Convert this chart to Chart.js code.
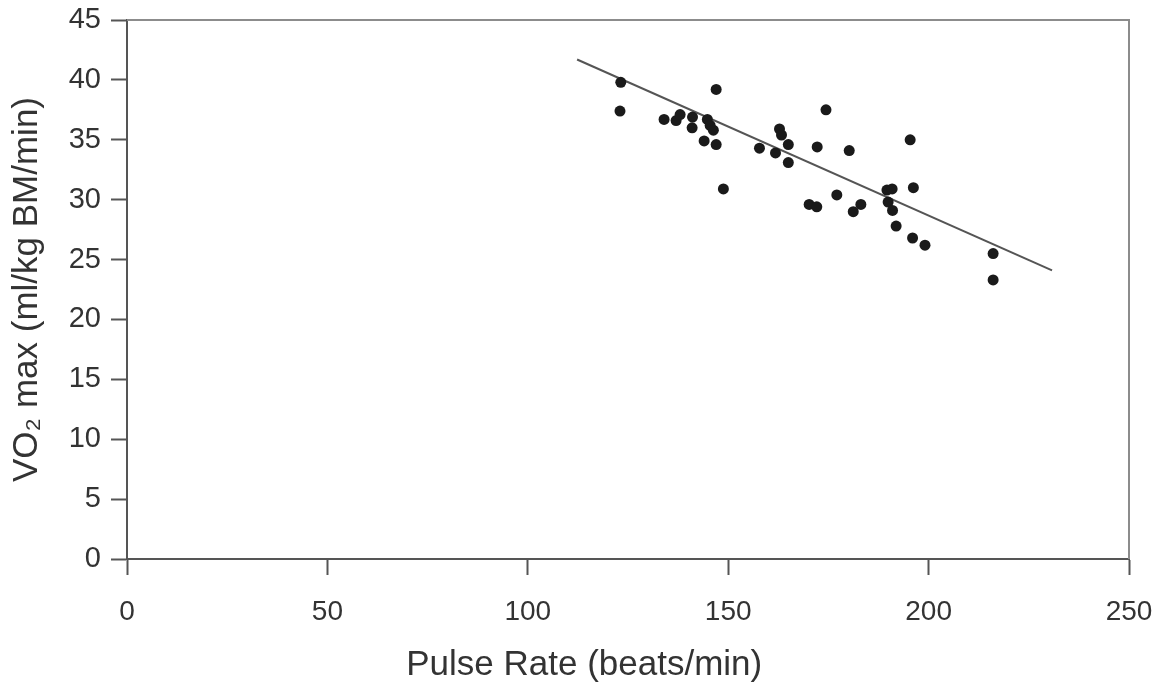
<!DOCTYPE html>
<html>
<head>
<meta charset="utf-8">
<script src="https://cdn.jsdelivr.net/npm/chart.js@4.4.1/dist/chart.umd.min.js"></script>
<style>
  html, body { margin: 0; padding: 0; background: #fff; }
</style>
</head>
<body>
<canvas id="vo2Chart" width="1159" height="692"></canvas>
<script>
// Valeurs
const pulseRate = [123.2, 123.0, 134.0, 137.0, 138.0, 141.1, 141.0, 144.8, 145.5, 146.3,
  144.0, 147.0, 147.0, 148.8, 157.8, 161.8, 162.8, 163.3, 165.0, 165.0,
  172.2, 174.4, 180.2, 177.1, 170.2, 172.1, 181.2, 183.1, 189.6, 190.9,
  189.9, 191.0, 191.9, 195.4, 196.2, 196.0, 199.1, 216.1, 216.1];
const vo2Max = [39.8, 37.4, 36.7, 36.6, 37.1, 36.9, 36.0, 36.7, 36.2, 35.8,
  34.9, 34.6, 39.2, 30.9, 34.3, 33.9, 35.9, 35.4, 34.6, 33.1,
  34.4, 37.5, 34.1, 30.4, 29.6, 29.4, 29.0, 29.6, 30.8, 30.9,
  29.8, 29.1, 27.8, 35.0, 31.0, 26.8, 26.2, 25.5, 23.3];

// Droite de régression
const trendPulse = [112.3, 230.8];
const trendVo2 = [41.7, 24.1];

// titre x un peu décalé vers la gauche comme sur l'original
const xTitle = 'Pulse Rate (beats/min)' + '\u00a0'.repeat(9);
const yTitle = 'VO\u2082 max (ml/kg BM/min)';

const font = "'Liberation Sans', Arial, sans-serif";
const textColor = '#333';

// cadre haut / droite
const framePlugin = {
  id: 'frame',
  beforeDatasetsDraw(chart) {
    const { ctx, chartArea: a } = chart;
    ctx.save();
    ctx.strokeStyle = '#8c8c8c';
    ctx.lineWidth = 2;
    ctx.beginPath();
    ctx.moveTo(a.left, a.top);
    ctx.lineTo(a.right, a.top);
    ctx.lineTo(a.right, a.bottom);
    ctx.stroke();
    ctx.restore();
  },
};

new Chart(document.getElementById('vo2Chart').getContext('2d'), {
  type: 'scatter',
  data: {
    datasets: [
      {
        label: 'VO2 max',
        data: pulseRate.map((x, i) => ({ x, y: vo2Max[i] })),
        backgroundColor: '#1a1a1a',
        borderWidth: 0,
        pointRadius: 5.5,
      },
      {
        type: 'line',
        label: 'Tendance',
        data: trendPulse.map((x, i) => ({ x, y: trendVo2[i] })),
        borderColor: '#555',
        borderWidth: 2,
        pointRadius: 0,
        fill: false,
      },
    ],
  },
  options: {
    responsive: false,
    animation: false,
    layout: { padding: { left: 0, right: 30, top: 20, bottom: 0 } },
    plugins: {
      legend: { display: false },
      tooltip: { enabled: false },
    },
    scales: {
      x: {
        type: 'linear',
        min: 0,
        max: 250,
        afterFit: (scale) => {
          scale.height = 133;
          scale.paddingLeft = 0;
          scale.paddingRight = 0;
        },
        ticks: {
          stepSize: 50,
          color: textColor,
          padding: 20,
          maxRotation: 0,
          font: { family: font, size: 28 },
        },
        grid: {
          drawOnChartArea: false,
          drawTicks: true,
          tickLength: 16,
          tickColor: '#555',
          tickWidth: 2,
        },
        border: { display: true, color: '#555', width: 2 },
        title: {
          display: true,
          text: xTitle,
          color: textColor,
          padding: { top: 0, bottom: 6 },
          font: { family: font, size: 35 },
        },
      },
      y: {
        min: 0,
        max: 45,
        afterFit: (scale) => {
          scale.width = 127;
          scale.paddingTop = 0;
          scale.paddingBottom = 0;
        },
        ticks: {
          stepSize: 5,
          color: textColor,
          padding: 10,
          font: { family: font, size: 29 },
        },
        grid: {
          drawOnChartArea: false,
          drawTicks: true,
          tickLength: 16,
          tickColor: '#555',
          tickWidth: 2,
        },
        border: { display: true, color: '#555', width: 2 },
        title: {
          display: true,
          text: yTitle,
          color: textColor,
          padding: { top: 6, bottom: 0 },
          font: { family: font, size: 35 },
        },
      },
    },
  },
  plugins: [framePlugin],
});
</script>
</body>
</html>
